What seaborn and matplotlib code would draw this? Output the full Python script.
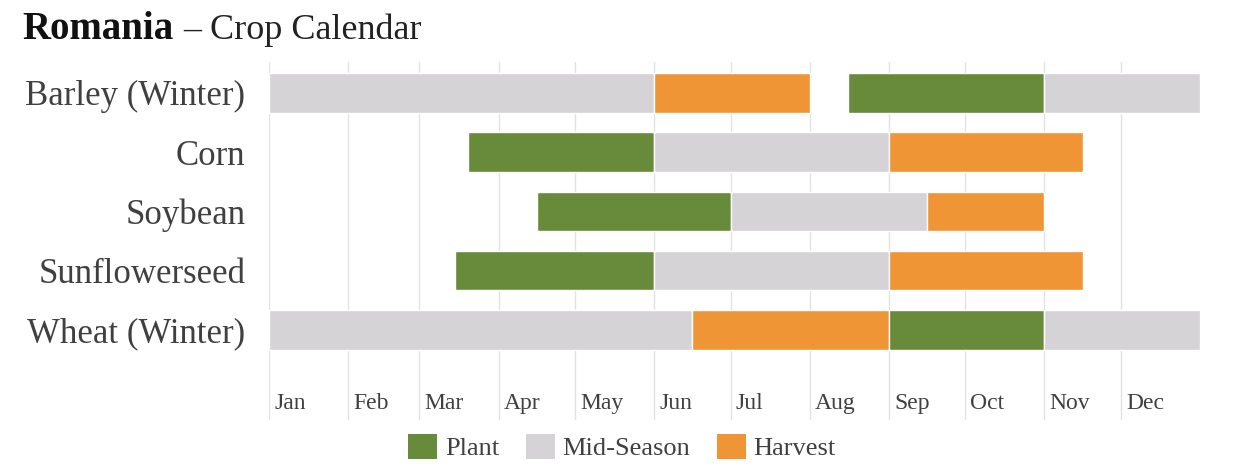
import matplotlib
matplotlib.use("Agg")
import matplotlib.pyplot as plt
from matplotlib.patches import Patch
import pandas as pd
import seaborn as sns

# crop rows, top to bottom
crops = ["Barley (Winter)", "Corn", "Soybean", "Sunflowerseed", "Wheat (Winter)"]

# calendar segments (day of year)
seg_crop = ["Barley (Winter)", "Barley (Winter)", "Barley (Winter)", "Barley (Winter)",
            "Corn", "Corn", "Corn",
            "Soybean", "Soybean", "Soybean",
            "Sunflowerseed", "Sunflowerseed", "Sunflowerseed",
            "Wheat (Winter)", "Wheat (Winter)", "Wheat (Winter)", "Wheat (Winter)"]
seg_stage = ["Mid-Season", "Harvest", "Plant", "Mid-Season",
             "Plant", "Mid-Season", "Harvest",
             "Plant", "Mid-Season", "Harvest",
             "Plant", "Mid-Season", "Harvest",
             "Mid-Season", "Harvest", "Plant", "Mid-Season"]
seg_start = [0, 151, 227, 304,
             78, 151, 243,
             105, 181, 258,
             73, 151, 243,
             0, 166, 243, 304]
seg_end = [151, 212, 304, 365,
           151, 243, 319,
           181, 258, 304,
           151, 243, 319,
           166, 243, 304, 365]

months = ["Jan", "Feb", "Mar", "Apr", "May", "Jun", "Jul", "Aug", "Sep", "Oct", "Nov", "Dec"]
month_start = [0, 31, 59, 90, 120, 151, 181, 212, 243, 273, 304, 334]

stages = ["Plant", "Mid-Season", "Harvest"]
stage_colors = {"Plant": "#678B3A", "Mid-Season": "#D5D3D6", "Harvest": "#F09536"}

df = pd.DataFrame({"crop": seg_crop, "stage": seg_stage,
                   "start": seg_start, "end": seg_end})
df["row"] = df["crop"].map({c: i for i, c in enumerate(crops)})

sns.set_theme(style="white")
plt.rcParams["font.family"] = ["Liberation Serif", "DejaVu Serif"]

fig = plt.figure(figsize=(12.42, 4.71), dpi=100)
ax = fig.add_axes([269 / 1242, 1 - 420 / 471, 931 / 1242, 358 / 471])

for _, r in df.iterrows():
    ax.barh(r["row"], r["end"] - r["start"], left=r["start"], height=0.67,
            color=stage_colors[r["stage"]], edgecolor="white", linewidth=1.0, zorder=2)

ax.set_xlim(0, 365)
ax.set_ylim(5.52, -0.52)
ax.set_xticks(month_start)
ax.set_xticklabels([])
ax.grid(axis="x", color="#E3E3E3", linewidth=1.0, zorder=0)
ax.grid(axis="y", visible=False)
ax.set_yticks(range(len(crops)))
ax.set_yticklabels(crops, fontsize=25, color="#404040")
ax.tick_params(axis="both", length=0)
ax.tick_params(axis="y", pad=17)
sns.despine(ax=ax, left=True, bottom=True)

for m, d in zip(months, month_start):
    ax.text(d + 2, 5.25, m, fontsize=17, color="#404040", ha="left", va="center")

# title
t1 = fig.text(22 / 1242, 1 - 39 / 471, "Romania", fontsize=28, fontweight="bold",
              color="#111111", va="baseline")
fig.canvas.draw()
bb = t1.get_window_extent()
fig.text((bb.x1 + 10) / 1242, 1 - 39 / 471, "\u2013 Crop Calendar", fontsize=26,
         color="#222222", va="baseline")

handles = [Patch(facecolor=stage_colors[s], edgecolor="none") for s in stages]
fig.legend(handles, stages, loc="center", bbox_to_anchor=(622 / 1242, 1 - 447 / 471),
           ncol=3, frameon=False, fontsize=19, handlelength=1.1, handleheight=1.1,
           handletextpad=0.3, columnspacing=1.0, labelcolor="#404040")

fig.savefig("out.png", dpi=100)
